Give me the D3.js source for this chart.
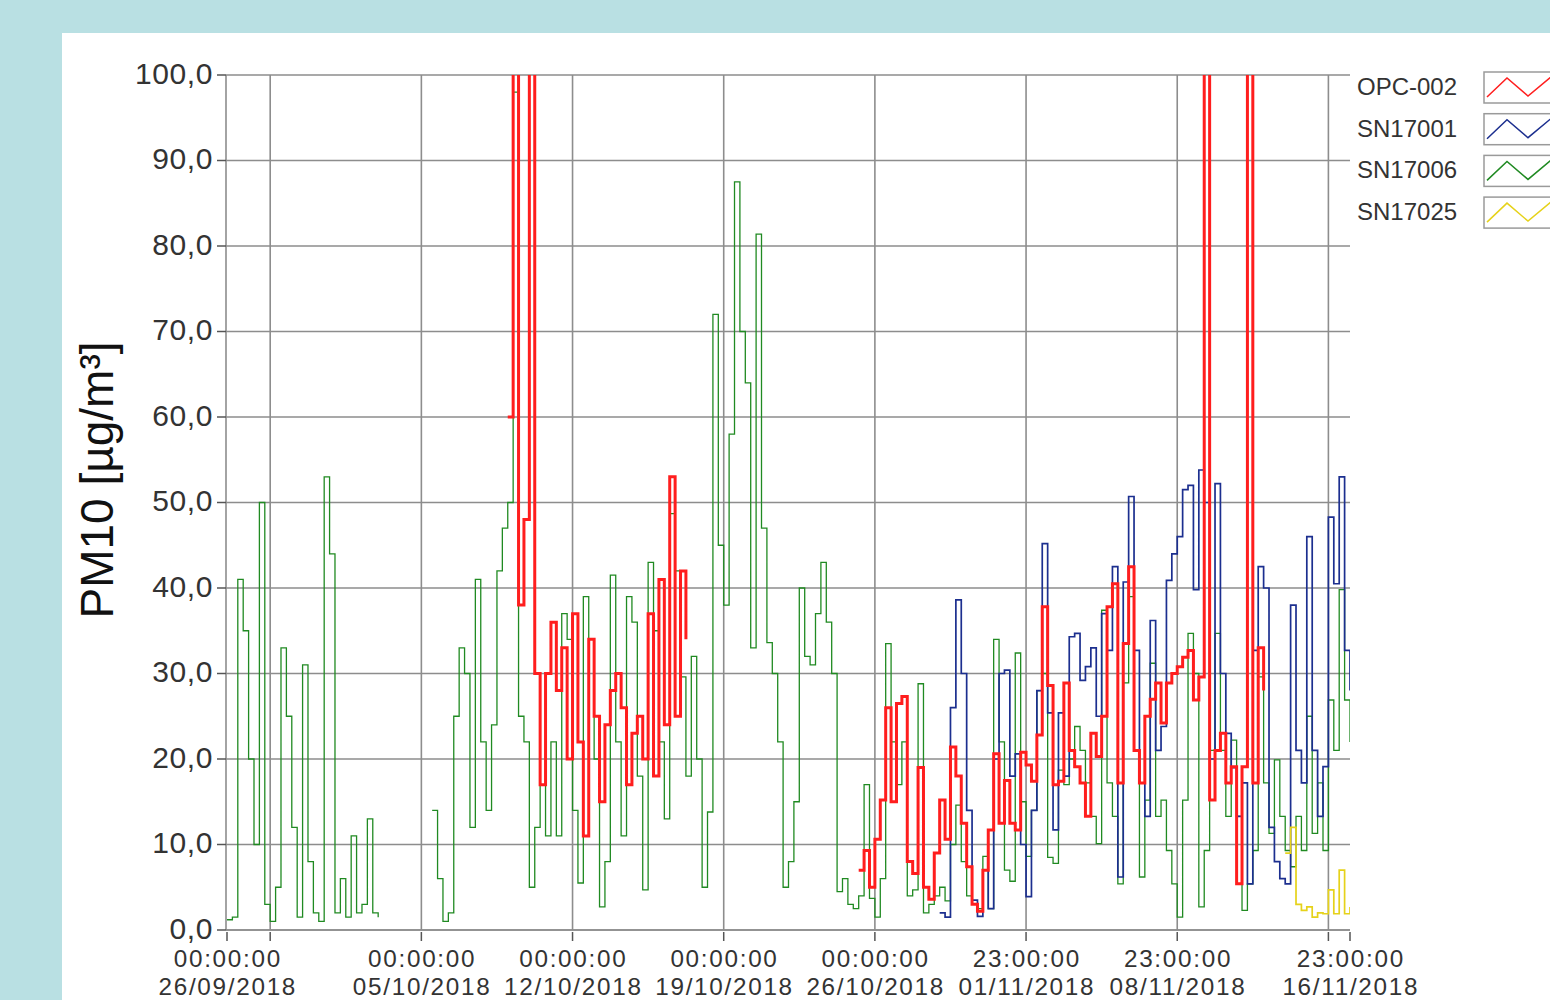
<!DOCTYPE html>
<html><head><meta charset="utf-8">
<script src="https://cdn.jsdelivr.net/npm/d3@7"></script>
<style>
html,body{margin:0;padding:0;background:#b9e0e3;}
svg{display:block;}
text{font-family:"Liberation Sans",Arial,sans-serif;}
</style></head><body>
<svg id="chart" width="1550" height="1000"></svg>
<script>
// ---------- DATA ----------
const seriesNames = ["OPC-002", "SN17001", "SN17006", "SN17025"];
const seriesColors = ["#ff1e1e", "#1c2f8f", "#208a22", "#e6d21a"];
const startTime = "2018-09-26T00:00:00Z";
const stepHours = 6;

// SN17006 (green), index offset 0
const greenStart = 0;
const greenValues = [
 1.2,1.5,41,35,20,10,50,3,1,5, 33,25,12,1.5,31,8,2,1,53,44,
 2,6,1.5,11,2,3,13,2,1.5,null, null,null,null,null,null,null,null,null,14,6,
 1,2,25,33,30,12,41,22,14,24, 42,47,50,98,25,22,5,12,17,11,
 22,11,37,34,14,5.5,39,34,20,2.7, 8,41.5,22,11,39,36,18,4.7,43,35,
 22,13,48.7,42,29.6,18,32,20,5,13.8, 72,45,38,58,87.5,70,64,33,81.4,47,
 33.6,30,22,5,8,15,40,32,31,37, 43,36,30,4.5,6,3,2.5,4,17,3.7,
 1.5,6,33.5,22,17,22,4,4.7,28.8,2, 3,4,5,3.4,10,14.6,8,4,3,2.5,
 8.6,2.5,34,22,7,5.7,32.4,15,8.6,14, 28,30,8.5,7.8,18.7,17,20,23.8,21,17.2,
 13.3,10.1,37.4,17.2,13.3,5.4,28.9,39,21,6.2, 15.2,31.2,13.3,15.2,9.3,5.4,1.5,15.2,34.7,30,
 2.7,9.3,21,34.7,21,13.3,22.2,13.3,2.3,5.4, 9.3,29.6,17.2,11.3,19.9,13.3,9.3,7.4,13.3,9.3,
 25,11.3,17.2,9.3,26.9,21,39.8,26.9,22
];

// OPC-002 (red), index offset 52
const redStart = 52;
const redValues = [
 60,110,38,48,110,30,17,30,36,28, 33,20,37,22,11,34,25,15,24,28,
 30,26,17,23,25,20,37,18,41,24, 53,25,42,34,
 null,null,null,null,null,null,null,null,null,null,
 null,null,null,null,null,null,null,null,null,null,
 null,null,null,null,null,null,null,null,null,null,null,
 7,9.3,5,10.6,15.2,26,15,26.5,27.3,8, 6.6,19,5,3.6,9,15.2,10.6,21.4,18,12.5,
 7.4,3,2.2,7,11.7,20.6,12.5,17.5,12.5,11.7, 20.8,19.3,17.4,22.8,37.8,28.6,17,17.4,28.9,21,
 19.1,17.2,13.3,23,20.3,25,37.8,40.5,17.2,33.5, 42.5,21,17.2,25,27,28.9,24.2,28.9,30,30.8,
 31.9,32.7,26.9,29.6,110,15.2,21,23,17.2,19.1, 5.4,19.1,110,17.2,33,28
];

// SN17001 (blue), index offset 132
const blueStart = 132;
const blueValues = [
 2,1.5,26,38.6,30,14,3.5,1.6,7,2.5, 20,30,30.4,18,20.6,10,3.9,14,28,45.2,
 25.4,11.7,25.4,18,34.3,34.7,29.2,30.8,33,25, 37,32.7,42.5,6.2,40.7,50.7,32.7,17.2,13.3,36.2,
 21,23.8,40.9,44,46,51.5,52,39.8,53.8,50, 20,52.2,30,23,19,13.3,17.2,5.4,32.7,42.5,
 40,12,8,6,5.4,38,21,17.2,46,21, 13.3,19.1,48.3,40.5,53,32.7,28
];

// SN17025 (yellow), index offset 196
const yellowStart = 196;
const yellowValues = [9,12,3,2.3,2.7,1.5,2,1.9,4.7,1.9,7,1.9,2.7];

const yTicks = [0,10,20,30,40,50,60,70,80,90,100];
const xTickDates = ["2018-09-26T00:00:00Z","2018-09-28T00:00:00Z","2018-10-05T00:00:00Z","2018-10-12T00:00:00Z","2018-10-19T00:00:00Z","2018-10-26T00:00:00Z","2018-11-02T00:00:00Z","2018-11-09T00:00:00Z","2018-11-16T00:00:00Z","2018-11-17T00:00:00Z"];
const xTickTimeLabels = ["00:00:00","","00:00:00","00:00:00","00:00:00","00:00:00","23:00:00","23:00:00","","23:00:00"];
const xTickDateLabels = ["26/09/2018","","05/10/2018","12/10/2018","19/10/2018","26/10/2018","01/11/2018","08/11/2018","","16/11/2018"];
const yTitle = "PM10 [µg/m³]";

// ---------- CHART ----------
const svg = d3.select("#chart");
svg.append("rect").attr("x",62).attr("y",33).attr("width",1550-62).attr("height",1000-33).attr("fill","#ffffff");

const L = 226, R = 1350, T = 75, B = 930;
const t0 = new Date(startTime);
const x = d3.scaleUtc().domain([t0, new Date("2018-11-17T00:00:00Z")]).range([227, R]);
const y = d3.scaleLinear().domain([0,100]).range([B, T]);
const gridColor = "#8d8d8d";

// horizontal grid
svg.append("g").selectAll("line").data(yTicks).join("line")
  .attr("x1", L).attr("x2", R).attr("y1", d=>y(d)).attr("y2", d=>y(d))
  .attr("stroke", gridColor).attr("stroke-width", 1.6);
// vertical grid (interior ticks)
const xTicks = xTickDates.map(d=>new Date(d));
svg.append("g").selectAll("line").data(xTicks.slice(1, -1)).join("line")
  .attr("x1", d=>x(d)).attr("x2", d=>x(d)).attr("y1", T).attr("y2", B)
  .attr("stroke", gridColor).attr("stroke-width", 1.6);
// axes lines
svg.append("line").attr("x1",L).attr("x2",L).attr("y1",T).attr("y2",B).attr("stroke",gridColor).attr("stroke-width",1.6);
svg.append("line").attr("x1",L).attr("x2",R).attr("y1",B).attr("y2",B).attr("stroke",gridColor).attr("stroke-width",1.6);

// y ticks & labels
const yg = svg.append("g");
yg.selectAll("line").data(yTicks).join("line")
  .attr("x1", L-9).attr("x2", L).attr("y1", d=>y(d)).attr("y2", d=>y(d))
  .attr("stroke", "#555").attr("stroke-width", 1.5);
yg.selectAll("text").data(yTicks).join("text")
  .attr("x", L-13).attr("y", d=>y(d)+8.8).attr("text-anchor","end")
  .attr("font-size", 30).attr("letter-spacing", 0.6).attr("fill","#333")
  .text(d=>d3.format(".1f")(d).replace(".", ","));

// x ticks & labels (two lines)
const xg = svg.append("g");
xg.selectAll("line").data(xTicks).join("line")
  .attr("x1", d=>x(d)).attr("x2", d=>x(d)).attr("y1", B+2).attr("y2", B+11)
  .attr("stroke", "#555").attr("stroke-width", 1.5);
const labelled = xTicks.filter((d,i)=>xTickTimeLabels[i]!=="");
xg.selectAll("text.t").data(labelled).join("text").attr("class","t")
  .attr("x", d=>x(d)+0.8).attr("y", 967.3).attr("text-anchor","middle")
  .attr("font-size", 24.3).attr("letter-spacing", 1.7).attr("fill","#333")
  .text(d=>xTickTimeLabels[xTicks.indexOf(d)]);
xg.selectAll("text.d").data(labelled).join("text").attr("class","d")
  .attr("x", d=>x(d)+0.8).attr("y", 994.8).attr("text-anchor","middle")
  .attr("font-size", 24.3).attr("letter-spacing", 1.7).attr("fill","#333")
  .text(d=>xTickDateLabels[xTicks.indexOf(d)]);

// y title
svg.append("text").attr("transform","translate(113,480) rotate(-90)")
  .attr("text-anchor","middle").attr("font-size",46).attr("fill","#111").text(yTitle);

// clip
svg.append("defs").append("clipPath").attr("id","plotclip")
  .append("rect").attr("x",L).attr("y",T).attr("width",R-L).attr("height",B-T);

function toPoints(start, values){
  return values.map((v,i)=>({t:d3.utcHour.offset(t0,(start+i)*stepHours), v}));
}
const line = d3.line().defined(d=>d.v!==null).x(d=>x(d.t)).y(d=>y(d.v)).curve(d3.curveStepAfter);
const plot = svg.append("g").attr("clip-path","url(#plotclip)");
const series = [
  {pts: toPoints(greenStart, greenValues), color: seriesColors[2], w: 1.3},
  {pts: toPoints(blueStart, blueValues), color: seriesColors[1], w: 1.7},
  {pts: toPoints(redStart, redValues), color: seriesColors[0], w: 3},
  {pts: toPoints(yellowStart, yellowValues), color: seriesColors[3], w: 1.7}
];
plot.selectAll("path").data(series).join("path")
  .attr("d", d=>line(d.pts)).attr("fill","none")
  .attr("stroke", d=>d.color).attr("stroke-width", d=>d.w)
  .attr("stroke-linejoin","miter");

// legend
const lg = svg.append("g");
seriesNames.forEach((name,i)=>{
  const oy = i*41.7;
  lg.append("text").attr("x",1357).attr("y",95+oy).attr("font-size",24).attr("fill","#333").text(name);
  lg.append("rect").attr("x",1484).attr("y",72+oy).attr("width",90).attr("height",31)
    .attr("fill","#fff").attr("stroke","#9a9a9a").attr("stroke-width",1.5);
  lg.append("polyline").attr("points",[[1487,97+oy],[1507,78+oy],[1528,96+oy],[1552,76+oy]].map(p=>p.join(",")).join(" "))
    .attr("fill","none").attr("stroke",seriesColors[i]).attr("stroke-width",1.5);
});
</script>
</body></html>
